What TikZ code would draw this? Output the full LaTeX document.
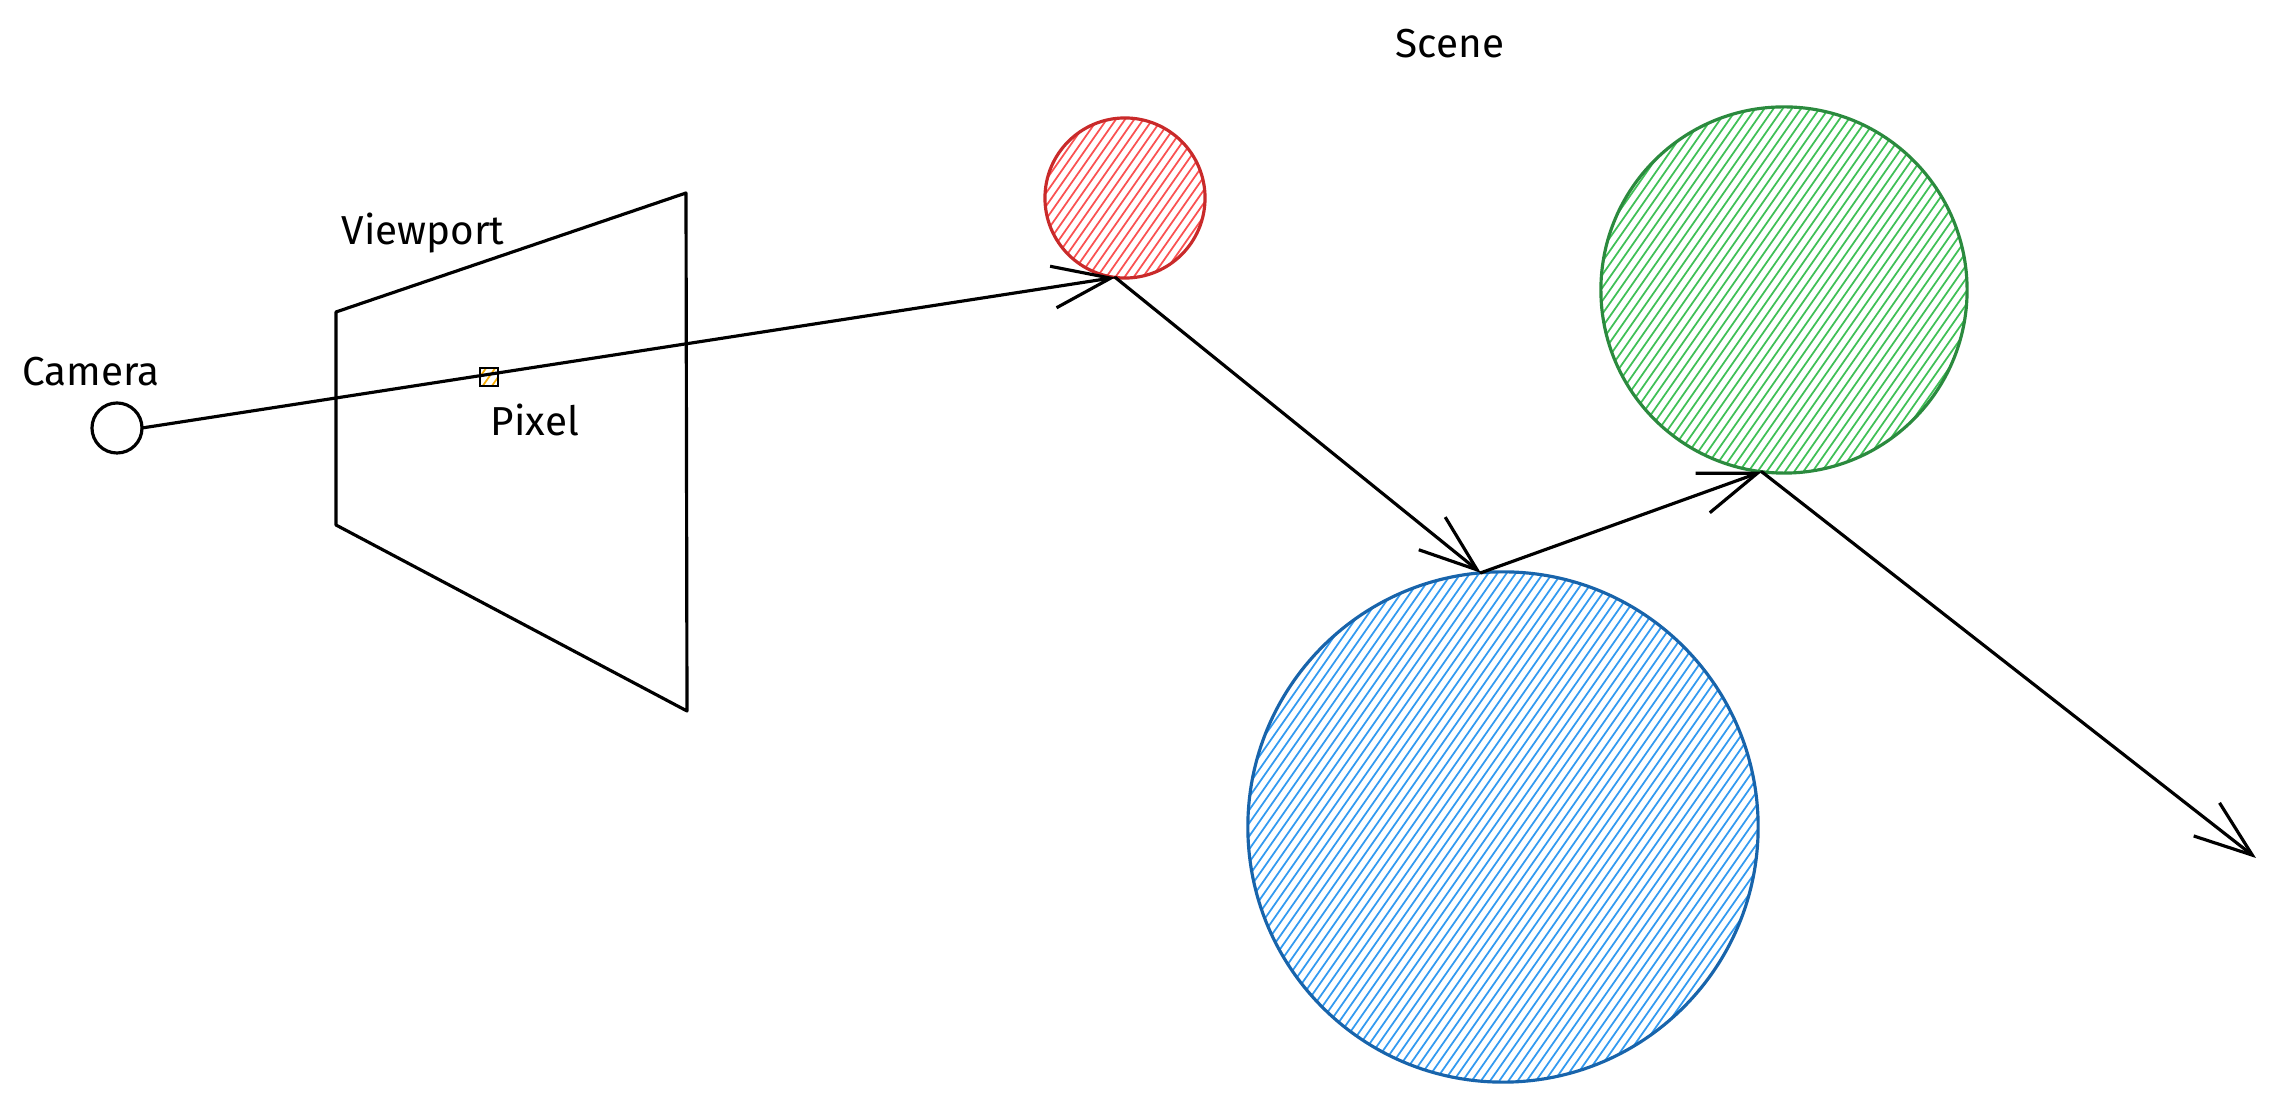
\documentclass[tikz,border=0pt]{standalone}
\usepackage{fontspec}
\setmainfont{Fira Sans}
\usetikzlibrary{arrows.meta,calc}
\definecolor{redstroke}{HTML}{C92A2A}
\definecolor{redhatch}{HTML}{FA5252}
\definecolor{bluestroke}{HTML}{1864AB}
\definecolor{bluehatch}{HTML}{339AF0}
\definecolor{greenstroke}{HTML}{2B8A3E}
\definecolor{greenhatch}{HTML}{40C057}
\definecolor{pixhatch}{HTML}{FAB005}
\tikzset{
  ink/.style={line width=0.9pt, black, line cap=round, line join=round},
  ray/.style={ink, -{Straight Barb[length=5.8mm, width=4.2mm]}},
  lbl/.style={font=\fontsize{11.5}{13}\selectfont, inner sep=0pt},
  hatched/.style={path picture={
    \foreach \k in {-34,...,34}{
      \draw[#1, line width=0.5pt]
        ($(path picture bounding box.center)+(145:\k*0.075cm)+(235:2.8cm)$) -- ++(55:5.6cm);
    }}},
  sphere/.style 2 args={circle, draw=#1, line width=0.9pt, inner sep=0pt, outer sep=0pt, hatched=#2},
}
\begin{document}
\begin{tikzpicture}[x=0.01cm, y=-0.01cm]
  \useasboundingbox (0,0) rectangle (2274,1101);

  % labels
  \node[lbl] (scenelbl) at (1450,44) {Scene};
  \node[lbl] (viewportlbl) at (423,233) {Viewport};
  \node[lbl] (cameralbl) at (91,372) {Camera};
  \node[lbl] (pixellbl) at (535,420) {Pixel};

  % viewport
  \draw[ink] (336,312) -- (686,193) -- (687,711) -- (336,525) -- cycle;

  % camera
  \node[circle, draw, line width=0.9pt, minimum size=0.5cm, inner sep=0pt, outer sep=0pt] (camera) at (117,428) {};

  % pixel
  \node[draw, line width=0.7pt, minimum size=0.18cm, inner sep=0pt, hatched=pixhatch] (pixel) at (489,377) {};

  % spheres
  \node[sphere={redstroke}{redhatch}, minimum size=1.6cm] (red) at (1125,198) {};
  \node[sphere={bluestroke}{bluehatch}, minimum size=5.1cm] (blue) at (1503,827) {};
  \node[sphere={greenstroke}{greenhatch}, minimum size=3.66cm] (green) at (1784,290) {};

  % hit points
  \coordinate (redhit) at (red.263);
  \coordinate (bluehit) at (blue.95.6);
  \coordinate (greenhit) at (green.263);
  \coordinate (rayend) at (2256,858);

  % rays
  \draw[ray] (camera.east) -- (redhit);
  \draw[ray] (redhit) -- (bluehit);
  \draw[ray] (bluehit) -- (greenhit);
  \draw[ray] (greenhit) -- (rayend);
\end{tikzpicture}
\end{document}
